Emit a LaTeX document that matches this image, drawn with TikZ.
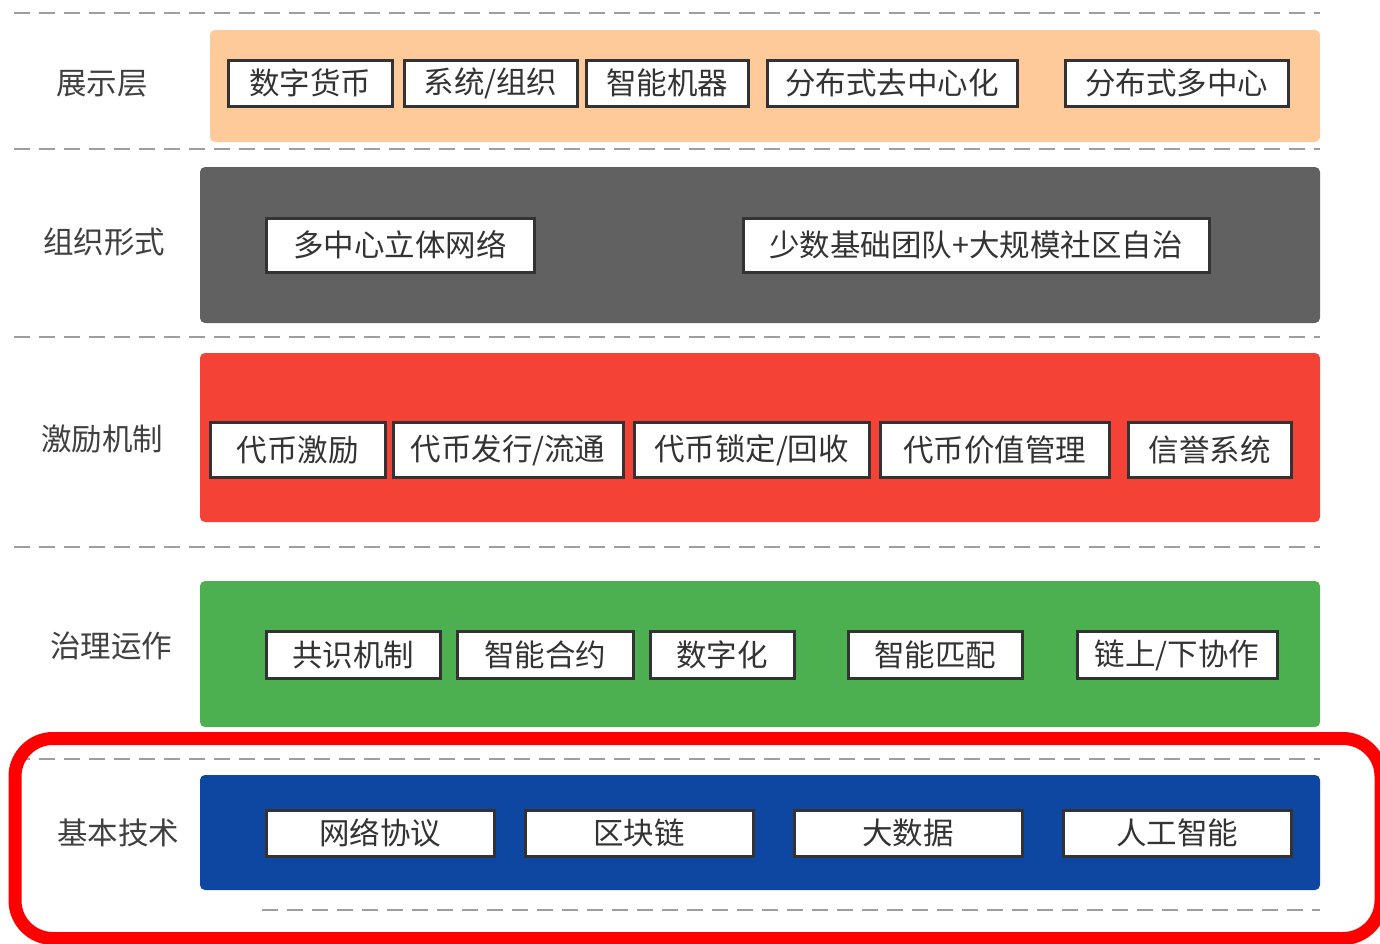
\documentclass[tikz,border=0pt]{standalone}
\usepackage{fontspec}
\setmainfont{Noto Sans CJK SC}
\begin{document}
\begin{tikzpicture}[x=1pt,y=-1pt,
  sep/.style={draw=black!38, line width=2pt, dash pattern=on 16pt off 9pt},
  panel/.style={rounded corners=5pt},
  bx/.style={draw=black!80, line width=3pt, fill=white, text=black!80, inner sep=0pt, font=\fontsize{30.5}{33}\selectfont},
  lab/.style={text=black!75, font=\fontsize{30.5}{33}\selectfont},
]
\definecolor{cOr}{HTML}{FFCA99}
\definecolor{cGy}{HTML}{616161}
\definecolor{cRd}{HTML}{F44336}
\definecolor{cGn}{HTML}{4CAF50}
\definecolor{cBl}{HTML}{0D47A1}
\definecolor{cFr}{HTML}{FF0000}
\useasboundingbox[fill=white] (0,0) rectangle (1380,943);

% separators
\coordinate (s1a) at (14,13);  \coordinate (s1b) at (1320,13);
\coordinate (s2a) at (14,149); \coordinate (s2b) at (1320,149);
\coordinate (s3a) at (14,337); \coordinate (s3b) at (1320,337);
\coordinate (s4a) at (14,547); \coordinate (s4b) at (1320,547);
\coordinate (s5a) at (14,759); \coordinate (s5b) at (1320,759);
\coordinate (s6a) at (262,910); \coordinate (s6b) at (1320,910);
\foreach \i in {1,...,6} \draw[sep] (s\i a) -- (s\i b);

% panels
\fill[panel, cOr] (210,30) rectangle (1320,142);
\fill[panel, cGy] (200,167) rectangle (1320,323);
\fill[panel, cRd] (200,353) rectangle (1320,522);
\fill[panel, cGn] (200,581) rectangle (1320,727);
\fill[panel, cBl] (200,775) rectangle (1320,890);

% left labels
\node[lab] (l1) at (102,84) {展示层};
\node[lab] (l2) at (104,242) {组织形式};
\node[lab] (l3) at (102,439) {激励机制};
\node[lab] (l4) at (111,646) {治理运作};
\node[lab] (l5) at (118,833) {基本技术};

% row 1
\node[bx, minimum width=164pt, minimum height=46pt] (a1) at (310,83) {数字货币};
\node[bx, minimum width=173pt, minimum height=46pt] (a2) at (490.5,83) {系统/组织};
\node[bx, minimum width=162pt, minimum height=46pt] (a3) at (667,83) {智能机器};
\node[bx, minimum width=250pt, minimum height=46pt] (a4) at (892,83) {分布式去中心化};
\node[bx, minimum width=223pt, minimum height=46pt] (a5) at (1176.5,83) {分布式多中心};

% row 2
\node[bx, minimum width=268pt, minimum height=54pt] (b1) at (400,245) {多中心立体网络};
\node[bx, minimum width=466pt, minimum height=54pt] (b2) at (976,245) {少数基础团队+大规模社区自治};

% row 3
\node[bx, minimum width=175pt, minimum height=55pt] (c1) at (297.5,450) {代币激励};
\node[bx, minimum width=230pt, minimum height=55pt] (c2) at (508,450) {代币发行/流通};
\node[bx, minimum width=235pt, minimum height=55pt] (c3) at (751.5,450) {代币锁定/回收};
\node[bx, minimum width=229pt, minimum height=55pt] (c4) at (994.5,450) {代币价值管理};
\node[bx, minimum width=163pt, minimum height=55pt] (c5) at (1209.5,450) {信誉系统};

% row 4
\node[bx, minimum width=174pt, minimum height=47pt] (d1) at (353,655) {共识机制};
\node[bx, minimum width=176pt, minimum height=47pt] (d2) at (545,655) {智能合约};
\node[bx, minimum width=144pt, minimum height=47pt] (d3) at (722,655) {数字化};
\node[bx, minimum width=174pt, minimum height=47pt] (d4) at (935,655) {智能匹配};
\node[bx, minimum width=200pt, minimum height=47pt] (d5) at (1177,655) {链上/下协作};

% row 5
\node[bx, minimum width=228pt, minimum height=46pt] (e1) at (380,833) {网络协议};
\node[bx, minimum width=228pt, minimum height=46pt] (e2) at (639,833) {区块链};
\node[bx, minimum width=228pt, minimum height=46pt] (e3) at (908,833) {大数据};
\node[bx, minimum width=228pt, minimum height=46pt] (e4) at (1177,833) {人工智能};

% highlight frame
\draw[cFr, line width=13pt, rounded corners=38pt] (15,738.5) rectangle (1381,938.5);
\end{tikzpicture}
\end{document}
